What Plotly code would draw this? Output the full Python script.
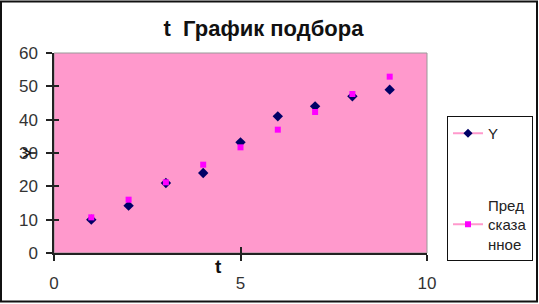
import plotly.graph_objects as go

t_values = [1, 2, 3, 4, 5, 6, 7, 8, 9]
y_actual = [10.0, 14.2, 21.0, 24.0, 33.2, 41.0, 44.0, 47.0, 49.0]
y_pred = [10.7, 16.0, 21.2, 26.5, 31.7, 37.0, 42.3, 47.7, 52.9]
x_ticks = [0, 5, 10]
y_ticks = [0, 10, 20, 30, 40, 50, 60]
title_text = "t  График подбора"
series_names = ["Y", "Пред<br>сказа<br>нное"]

W, H = 539, 304
L, R, T, B = 54, 112, 53, 51
PW, PH = W - L - R, H - T - B

FONT = "Liberation Sans, Arial, sans-serif"
PINK = "#FF99CC"
NAVY = "#000066"
MAG = "#FF00FF"


def px_x(p):
    return (p - L) / PW


def px_y(p):
    return (H - B - p) / PH


fig = go.Figure()
fig.add_trace(go.Scatter(x=t_values, y=y_actual, mode="markers", showlegend=False,
                         marker=dict(symbol="diamond", size=8, color=NAVY)))
fig.add_trace(go.Scatter(x=t_values, y=y_pred, mode="markers", showlegend=False,
                         marker=dict(symbol="square", size=6, color=MAG)))
# legend entries
fig.add_trace(go.Scatter(x=[None], y=[None], mode="lines+markers", name=series_names[0],
                         legendgroup="a", line=dict(color=PINK, width=2),
                         marker=dict(symbol="diamond", size=7, color=NAVY)))
fig.add_trace(go.Scatter(x=[None], y=[None], mode="lines+markers", name=series_names[1],
                         legendgroup="b", line=dict(color=PINK, width=2),
                         marker=dict(symbol="square", size=6, color=MAG)))
# dummy trace for inner tick axes
fig.add_trace(go.Scatter(x=[None], y=[None], xaxis="x2", yaxis="y2", showlegend=False))

tickfont = dict(family=FONT, size=17, color="#333333")

fig.update_layout(
    width=W, height=H,
    margin=dict(l=L, r=R, t=T, b=B, autoexpand=False),
    paper_bgcolor="white",
    plot_bgcolor=PINK,
    title=dict(text="<b>" + title_text + "</b>", x=263.5 / W, xanchor="center",
               y=1 - 28 / H, yanchor="middle",
               font=dict(family=FONT, size=22, color="#111111")),
    xaxis=dict(range=[0, 10], tickvals=x_ticks, showgrid=False, zeroline=False,
               showline=True, linecolor="#222222", linewidth=1.5,
               ticks="outside", ticklen=6, tickcolor="#222222", tickwidth=1.5,
               tickfont=tickfont, ticklabelstandoff=8),
    yaxis=dict(range=[0, 60], tickvals=y_ticks, showgrid=False, zeroline=False,
               showline=True, linecolor="#222222", linewidth=1.5,
               ticks="outside", ticklen=6, tickcolor="#222222", tickwidth=1.5,
               tickfont=tickfont, ticklabelstandoff=5),
    xaxis2=dict(range=[0, 10], tickvals=x_ticks, overlaying="x", anchor="y2", side="bottom",
                showgrid=False, zeroline=False, showline=False, showticklabels=False,
                ticks="inside", ticklen=6, tickcolor="#222222", tickwidth=1.5),
    yaxis2=dict(range=[0, 60], tickvals=y_ticks, overlaying="y", anchor="x2", side="left",
                showgrid=False, zeroline=False, showline=False, showticklabels=False,
                ticks="inside", ticklen=5, tickcolor="#222222", tickwidth=1.5),
    legend=dict(x=px_x(447), y=px_y(116), xanchor="left", yanchor="top",
                bgcolor="white", bordercolor="#111111", borderwidth=1,
                font=dict(family=FONT, size=15, color="#222222"),
                traceorder="grouped", tracegroupgap=49, itemwidth=30),
    shapes=[
        dict(type="rect", xref="paper", yref="paper", x0=0, x1=1, y0=0, y1=1,
             line=dict(color="#999999", width=1), layer="below"),
        dict(type="rect", xref="paper", yref="paper",
             x0=px_x(1), x1=px_x(537), y0=px_y(301.5), y1=px_y(1.5),
             line=dict(color="#111111", width=2)),
    ],
    annotations=[
        dict(text="<b>t</b>", xref="paper", yref="paper", x=px_x(218), y=px_y(279),
             showarrow=False, font=dict(family=FONT, size=19, color="#111111")),
        dict(text="Y", xref="paper", yref="paper", x=px_x(18), y=px_y(153),
             showarrow=False, textangle=-90, font=dict(family=FONT, size=18, color="#111111")),
    ],
)

fig.write_html("out.html")
